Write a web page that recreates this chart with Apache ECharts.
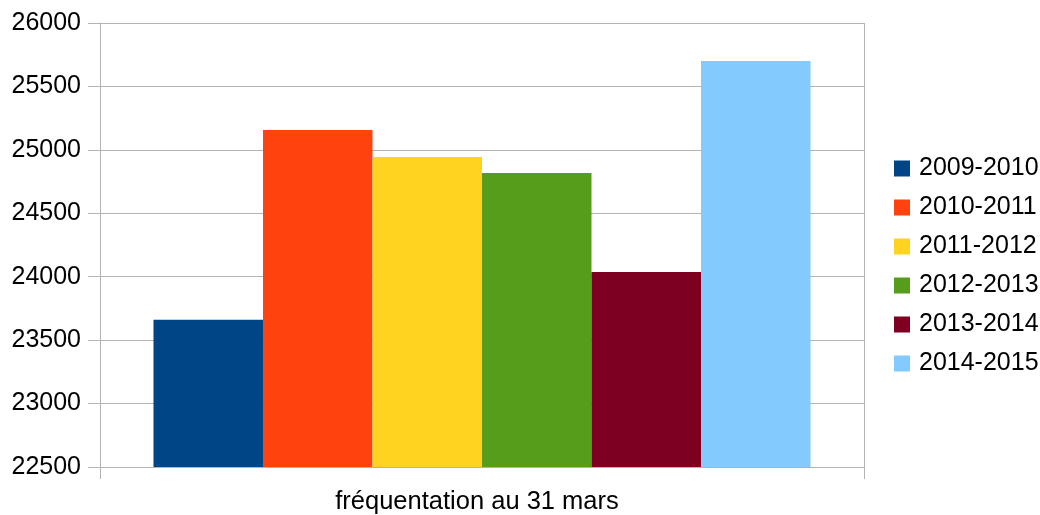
<!DOCTYPE html>
<html>
<head>
<meta charset="utf-8">
<script src="https://cdn.jsdelivr.net/npm/echarts@6/dist/echarts.min.js"></script>
<style>
html,body{margin:0;padding:0;background:#fff;}
#chart{width:1040px;height:515px;}
</style>
</head>
<body>
<div id="chart"></div>
<script>
const categories = ['fréquentation au 31 mars'];
const seasons = ['2009-2010','2010-2011','2011-2012','2012-2013','2013-2014','2014-2015'];
const values = [23660, 25157, 24944, 24818, 24038, 25701];
const colors = ['#004586','#ff420e','#ffd320','#579d1c','#7e0021','#83caff'];
const yTicks = { min: 22500, max: 26000, interval: 500 };

const font = 'Liberation Sans, Arial, sans-serif';
const chart = echarts.init(document.getElementById('chart'), null, {renderer:'canvas'});
chart.setOption({
  animation: false,
  backgroundColor: '#ffffff',
  grid: { left: 100, right: 176, top: 23, bottom: 47, containLabel: false },
  legend: {
    orient: 'vertical',
    left: 894,
    top: 156,
    padding: 0,
    itemWidth: 16,
    itemHeight: 16,
    itemGap: 14,
    icon: 'rect',
    data: seasons,
    textStyle: { fontFamily: font, fontSize: 25, color: '#000', padding: [0,0,0,4] }
  },
  xAxis: {
    type: 'category',
    data: categories,
    axisLine: { show: true, lineStyle: { color: '#b3b3b3', width: 1 } },
    axisTick: { show: true, length: 12, lineStyle: { color: '#b3b3b3' } },
    splitLine: { show: true, lineStyle: { color: '#b3b3b3', width: 1 } },
    axisLabel: { fontFamily: font, fontSize: 25.5, color: '#000', margin: 22, padding: [0, 10, 0, 0] }
  },
  yAxis: {
    type: 'value',
    min: yTicks.min,
    max: yTicks.max,
    interval: yTicks.interval,
    axisLine: { show: true, lineStyle: { color: '#b3b3b3', width: 1 } },
    axisTick: { show: true, length: 12, lineStyle: { color: '#b3b3b3' } },
    splitLine: { show: true, lineStyle: { color: '#b3b3b3', width: 1 } },
    axisLabel: { fontFamily: font, fontSize: 25, color: '#000', margin: 19, formatter: v => String(v) }
  },
  series: seasons.map((s, i) => ({
    name: s,
    type: 'bar',
    data: [values[i]],
    itemStyle: { color: colors[i] },
    barGap: '0%',
    barCategoryGap: '14%'
  }))
});
</script>
</body>
</html>
